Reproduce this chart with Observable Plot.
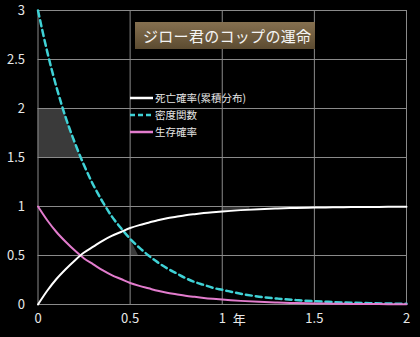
<!DOCTYPE html>
<html>
<head>
<meta charset="utf-8">
<script src="https://cdn.jsdelivr.net/npm/d3@7"></script>
<script src="https://cdn.jsdelivr.net/npm/@observablehq/plot@0.6"></script>
<style>
html,body{margin:0;padding:0;background:#000;}
#wrap{position:relative;width:420px;height:337px;background:#000;font-family:"Noto Sans CJK JP","Noto Sans",sans-serif;}
#title{position:absolute;left:135px;top:22px;width:180px;height:27px;background:linear-gradient(#857050,#5c4b31);color:#f4f4f4;font-size:15px;line-height:27px;padding-left:8px;box-sizing:border-box;letter-spacing:0.3px;}
#legend{position:absolute;left:130px;top:89px;color:#e6e6e6;font-size:10.5px;}
#legend div{height:17px;display:flex;align-items:center;}
#legend svg{margin-right:2px;}
</style>
</head>
<body>
<div id="wrap">
<div id="chart"></div>
<div id="title">ジロー君のコップの運命</div>
<div id="legend"></div>
</div>
<script>
// time (years)
const t = [0,0.05,0.1,0.15,0.2,0.25,0.3,0.35,0.4,0.45,0.5,0.55,0.6,0.65,0.7,0.75,0.8,0.85,0.9,0.95,1.0,1.1,1.2,1.3,1.4,1.5,1.6,1.7,1.8,1.9,2.0];
// 死亡確率(累積分布)
const death = [0,0.14,0.26,0.36,0.45,0.53,0.59,0.65,0.70,0.74,0.78,0.81,0.835,0.86,0.88,0.895,0.91,0.922,0.933,0.942,0.95,0.963,0.973,0.98,0.985,0.989,0.992,0.994,0.995,0.997,0.998];
// 密度関数
const density = [3,2.58,2.22,1.91,1.65,1.42,1.22,1.05,0.90,0.78,0.67,0.58,0.50,0.43,0.37,0.32,0.27,0.23,0.20,0.17,0.15,0.11,0.08,0.06,0.045,0.033,0.025,0.018,0.014,0.010,0.007];
// 生存確率
const survival = [1,0.86,0.74,0.64,0.55,0.47,0.41,0.35,0.30,0.26,0.22,0.19,0.165,0.14,0.12,0.105,0.09,0.078,0.067,0.058,0.05,0.037,0.027,0.02,0.015,0.011,0.008,0.006,0.005,0.003,0.002];

const seriesNames = ["死亡確率(累積分布)","密度関数","生存確率"];
const xTicks = [0,0.5,1,1.5,2];
const yTicks = [0,0.5,1,1.5,2,2.5,3];

// shaded region (left of density curve, between 1.5 and 2)
const shadeY = [1.5,1.65,1.78,1.91,2];
const shadeX = [0.231,0.2,0.175,0.15,0.135];
// small shaded bits
const shade2Y = [0.5,0.67];
const shade2X = [0.545,0.5];
const shade3T = [1.0,1.05,1.1,1.15];
const shade3V = [0.95,0.957,0.963,0.968];

const rows = t.map((v,i)=>({t:v, death:death[i], density:density[i], survival:survival[i]}));
const shade = shadeY.map((y,i)=>({y, x:shadeX[i]}));
const shade2 = shade2Y.map((y,i)=>({y, x:shade2X[i]}));
const shade3 = shade3T.map((x,i)=>({x, y:shade3V[i]}));

const colors = ["#ffffff","#3fd2d6","#e27ccd"];
const grid = "#8a8a8a";
const txt = "#e8e8e8";

const chart = Plot.plot({
  width: 420, height: 337,
  marginLeft: 37.5, marginRight: 14, marginTop: 10, marginBottom: 33,
  style: {background:"#000", color: txt, fontFamily:'"Noto Sans CJK JP","Noto Sans",sans-serif', fontSize:"13px"},
  x: {domain:[0,2], ticks: xTicks, tickSize:0, tickPadding:9, tickFormat: d=>String(d), label:null},
  y: {domain:[0,3], ticks: yTicks, tickSize:0, tickPadding:13, tickFormat: d=>String(d), label:null},
  marks: [
    Plot.areaX(shade, {y:"y", x1:0, x2:"x", fill:"#3a3a3a"}),
    Plot.areaX(shade2, {y:"y", x1:0.5, x2:"x", fill:"#3a3a3a"}),
    Plot.areaY(shade3, {x:"x", y1:"y", y2:1, fill:"#333"}),
    Plot.ruleX(xTicks, {stroke: grid, strokeWidth:1}),
    Plot.ruleY(yTicks, {stroke: grid, strokeWidth:1}),
    Plot.line(rows, {x:"t", y:"density", stroke: colors[1], strokeWidth:2.5, strokeDasharray:"6,4", curve:"monotone-x"}),
    Plot.line(rows, {x:"t", y:"survival", stroke: colors[2], strokeWidth:2, curve:"monotone-x"}),
    Plot.line(rows, {x:"t", y:"death", stroke: colors[0], strokeWidth:2, curve:"monotone-x"}),
    Plot.text(["年"], {x:1, y:0, dx:17, dy:19, fill: txt, fontSize:13, frameAnchor:"bottom"})
  ]
});
document.getElementById("chart").appendChild(chart);

const leg = document.getElementById("legend");
seriesNames.forEach((n,i)=>{
  const d = document.createElement("div");
  const dash = i===1 ? 'stroke-dasharray="5,3"' : '';
  d.innerHTML = `<svg width="23" height="6"><line x1="0" y1="3" x2="23" y2="3" stroke="${colors[i]}" stroke-width="2.5" ${dash}/></svg><span>${n}</span>`;
  leg.appendChild(d);
});
</script>
</body>
</html>
